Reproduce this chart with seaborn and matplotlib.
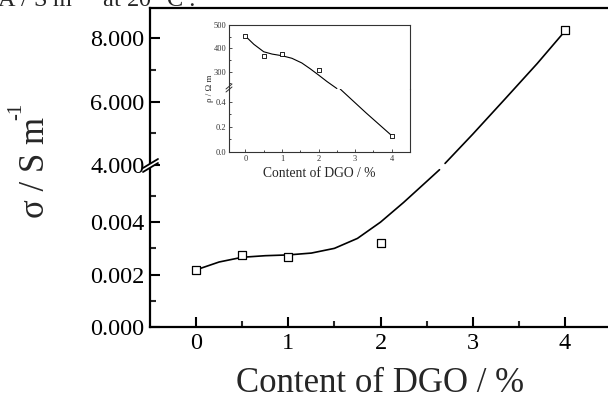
import numpy as np
import pandas as pd
import matplotlib
matplotlib.use("Agg")
import matplotlib.pyplot as plt
import seaborn as sns
from matplotlib.ticker import FixedLocator, FormatStrFormatter
from matplotlib.lines import Line2D
from matplotlib.patches import Polygon

# ---------------- data ----------------
content = [0, 0.5, 1, 2, 4]
sigma = [0.00218, 0.00275, 0.00267, 0.00321, 8.25]          # S m^-1
rho = [452, 366, 374, 307, 0.13]                              # Ohm m

# smooth fitted curve of main plot (lower and upper part of broken axis)
sig_fit_x_low = [0, 0.25, 0.5, 0.75, 1.0, 1.25, 1.5, 1.75, 2.0, 2.25, 2.5, 2.64]
sig_fit_low = [0.00218, 0.00248, 0.00266, 0.00272, 0.00275, 0.00282, 0.00300, 0.00338,
               0.00400, 0.00475, 0.00555, 0.00600]
sig_fit_x_up = [2.70, 3.0, 3.35, 3.7, 4.0]
sig_fit_up = [4.05, 4.97, 6.08, 7.2, 8.22]

# smooth fitted curve of inset
rho_fit_x_up = [0, 0.23, 0.5, 0.73, 1.0, 1.27, 1.54, 1.77, 2.0, 2.23, 2.5]
rho_fit_up = [452, 417, 385, 375, 368, 357, 337, 312, 285, 257, 227]
rho_fit_x_low = [2.59, 3.3, 4.0]
rho_fit_low = [0.50, 0.31, 0.13]

main_xticks = [0, 1, 2, 3, 4]
main_low_ticks = [0.000, 0.002, 0.004]
main_up_ticks = [4, 6, 8]
inset_low_ticks = [0.0, 0.2, 0.4]
inset_up_ticks = [300, 400, 500]

# ---------------- style ----------------
sns.set_style("ticks")
plt.rcParams["font.family"] = ["Liberation Serif", "DejaVu Serif"]
plt.rcParams["mathtext.fontset"] = "custom"
plt.rcParams["mathtext.rm"] = "Liberation Serif"
plt.rcParams["mathtext.default"] = "regular"

W, H = 608, 408
fig = plt.figure(figsize=(W / 100, H / 100), dpi=100)


def fr(x0, y0, x1, y1):
    return [x0 / W, 1 - y1 / H, (x1 - x0) / W, (y1 - y0) / H]


df = pd.DataFrame({"content": content, "sigma": sigma, "rho": rho})
low_pts = df[df["sigma"] < 1]
up_pts = df[df["sigma"] >= 1]

ax_lo = fig.add_axes(fr(150, 165, 611, 327))
ax_up = fig.add_axes(fr(150, 8, 611, 165))

for ax in (ax_lo, ax_up):
    ax.set_xlim(-0.5, 4.5)
    for s in ax.spines.values():
        s.set_linewidth(1.6)
        s.set_color("black")
    ax.tick_params(which="major", direction="in", length=7, width=1.5, labelsize=17.5,
                   colors="black", pad=4)
    ax.tick_params(which="minor", direction="in", length=4, width=1.5)

ax_lo.set_ylim(0, 0.00618)
ax_up.set_ylim(4, 8.95)

sns.lineplot(x=sig_fit_x_low, y=sig_fit_low, ax=ax_lo, color="black", lw=1.2,
             sort=False, estimator=None)
sns.lineplot(x=sig_fit_x_up, y=sig_fit_up, ax=ax_up, color="black", lw=1.2,
             sort=False, estimator=None)
sns.scatterplot(data=low_pts, x="content", y="sigma", ax=ax_lo, marker="s", s=26,
                facecolor="white", edgecolor="black", linewidth=0.9, zorder=5)
sns.scatterplot(data=up_pts, x="content", y="sigma", ax=ax_up, marker="s", s=26,
                facecolor="white", edgecolor="black", linewidth=0.9, zorder=5,
                clip_on=False)

ax_lo.spines["top"].set_visible(False)
ax_up.spines["bottom"].set_visible(False)
ax_lo.xaxis.set_major_locator(FixedLocator(main_xticks))
ax_lo.xaxis.set_minor_locator(FixedLocator([0.5, 1.5, 2.5, 3.5]))
ax_lo.yaxis.set_major_locator(FixedLocator(main_low_ticks))
ax_lo.yaxis.set_minor_locator(FixedLocator([0.001, 0.003, 0.005]))
ax_lo.yaxis.set_major_formatter(FormatStrFormatter("%.3f"))
ax_up.yaxis.set_major_locator(FixedLocator(main_up_ticks))
ax_up.yaxis.set_minor_locator(FixedLocator([5, 7]))
ax_up.yaxis.set_major_formatter(FormatStrFormatter("%.3f"))
ax_up.tick_params(axis="x", which="both", bottom=False, labelbottom=False)
ax_lo.tick_params(axis="x", top=False)
for ax in (ax_lo, ax_up):
    ax.set_xlabel("")
    ax.set_ylabel("")

# break symbol on main y axis
fig.patches.append(Polygon([[143 / W, 1 - 172 / H], [158 / W, 1 - 163 / H],
                            [158 / W, 1 - 159 / H], [143 / W, 1 - 168 / H]],
                           closed=True, transform=fig.transFigure, facecolor="white",
                           edgecolor="none", zorder=10))
for dy in (0, 4):
    fig.lines.append(Line2D([143 / W, 158 / W], [1 - (172 - dy) / H, 1 - (163 - dy) / H],
                            transform=fig.transFigure, color="black", lw=1.3, zorder=11))

# labels
fig.text(380 / W, 1 - 383 / H, "Content of DGO / %", ha="center", va="center", fontsize=25)
fig.text(36 / W, 1 - 168 / H, "σ / S m", ha="center", va="center", fontsize=25,
         rotation=90)
fig.text(17 / W, 1 - 111 / H, "-1", ha="center", va="center", fontsize=15, rotation=90)
# partly cropped text at top of the reference crop
fig.text(-3 / W, 1 - 7 / H, "A / S m$^{-1}$  at 20 °C :", ha="left", va="baseline",
         fontsize=17.5)

# ---------------- inset ----------------
in_lo = fig.add_axes(fr(229, 89, 410, 152))
in_up = fig.add_axes(fr(229, 25, 410, 89))
ilow = df[df["rho"] < 1]
iup = df[df["rho"] >= 1]
for ax in (in_lo, in_up):
    ax.set_xlim(-0.45, 4.5)
    ax.set_facecolor("white")
    for s in ax.spines.values():
        s.set_linewidth(0.8)
        s.set_color("#333333")
    ax.tick_params(which="major", direction="in", length=2.5, width=0.6, labelsize=6,
                   colors="#333333", pad=2)
    ax.tick_params(which="minor", direction="in", length=1.5, width=0.6)
in_lo.set_ylim(0, 0.50)
in_up.set_ylim(225, 500)
sns.lineplot(x=rho_fit_x_up, y=rho_fit_up, ax=in_up, color="black", lw=0.8,
             sort=False, estimator=None)
sns.lineplot(x=rho_fit_x_low, y=rho_fit_low, ax=in_lo, color="black", lw=0.8,
             sort=False, estimator=None)
sns.scatterplot(data=iup, x="content", y="rho", ax=in_up, marker="s", s=6,
                facecolor="white", edgecolor="black", linewidth=0.6, zorder=5)
sns.scatterplot(data=ilow, x="content", y="rho", ax=in_lo, marker="s", s=6,
                facecolor="white", edgecolor="black", linewidth=0.6, zorder=5)
in_lo.spines["top"].set_visible(False)
in_up.spines["bottom"].set_visible(False)
in_up.tick_params(axis="x", which="both", bottom=False, labelbottom=False)
in_lo.xaxis.set_major_locator(FixedLocator(main_xticks))
in_lo.xaxis.set_minor_locator(FixedLocator([0.5, 1.5, 2.5, 3.5]))
in_lo.yaxis.set_major_locator(FixedLocator(inset_low_ticks))
in_lo.yaxis.set_minor_locator(FixedLocator([0.1, 0.3]))
in_lo.yaxis.set_major_formatter(FormatStrFormatter("%.1f"))
in_up.yaxis.set_major_locator(FixedLocator(inset_up_ticks))
in_up.yaxis.set_minor_locator(FixedLocator([250, 350, 450]))
for ax in (in_lo, in_up):
    ax.set_xlabel("")
    ax.set_ylabel("")
fig.text(319.5 / W, 1 - 173 / H, "Content of DGO / %", ha="center", va="center",
         fontsize=9.8)
fig.text(210 / W, 1 - 88 / H, "ρ / Ω m", ha="center", va="center", fontsize=6.5,
         rotation=90)
# inset break symbol
for dy in (0, 3):
    fig.lines.append(Line2D([226 / W, 232 / W], [1 - (92 - dy) / H, 1 - (87 - dy) / H],
                            transform=fig.transFigure, color="#333333", lw=0.7, zorder=11))

fig.savefig("out.png", dpi=100)
